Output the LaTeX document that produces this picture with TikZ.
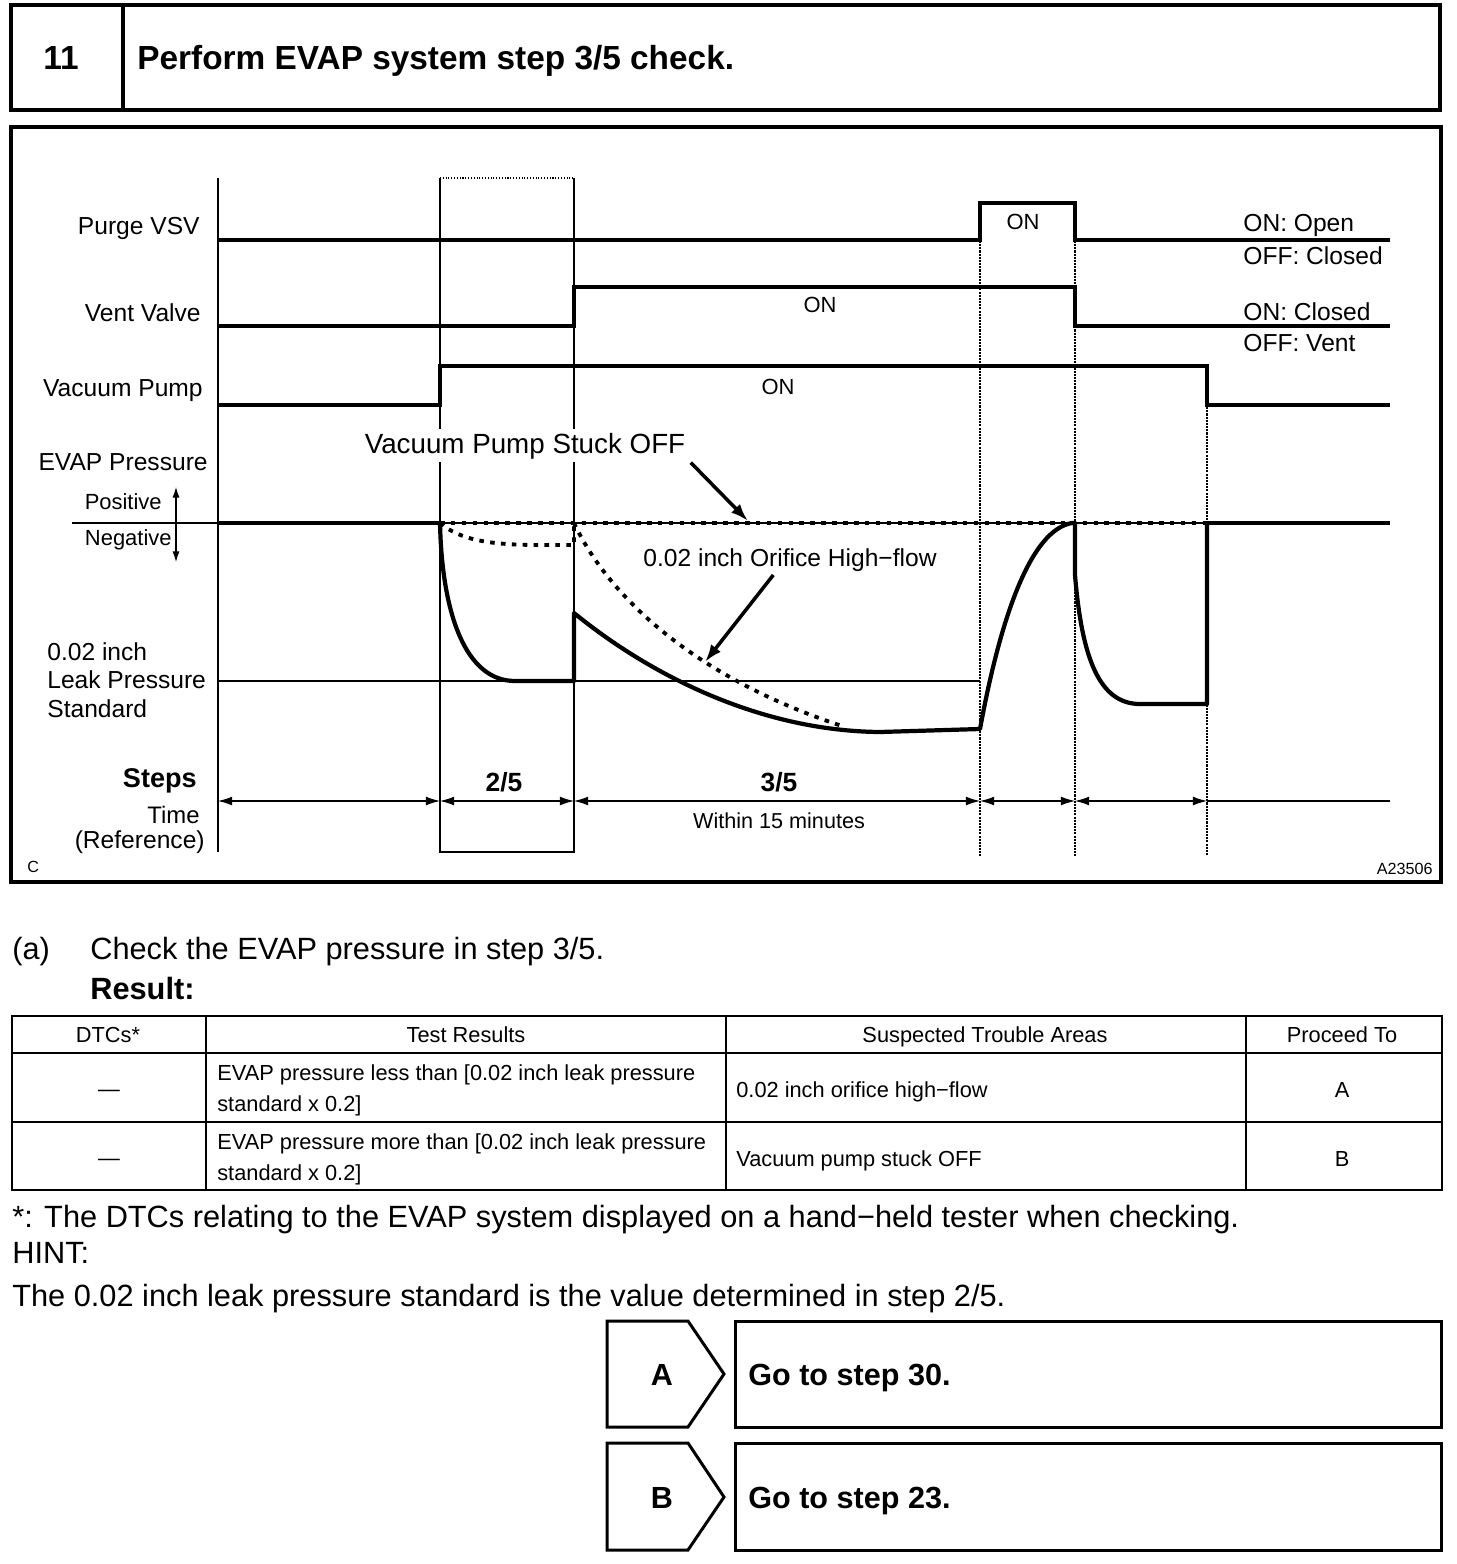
\documentclass[tikz,border=0pt]{standalone}
\usepackage{fontspec}
\setmainfont{Liberation Sans}
\usetikzlibrary{arrows.meta}
\newcommand{\fsz}[1]{\fontsize{#1}{#1}\selectfont}

\begin{document}
\begin{tikzpicture}[x=0.02cm,y=-0.02cm,
  every node/.style={inner sep=0pt},
  boxline/.style={line width=2.2pt},
  signal/.style={line width=2.4pt},
  guide/.style={line width=0.6pt},
  vguide/.style={line width=0.6pt,dash pattern=on 1.2pt off 0.6pt},
  leakdots/.style={line width=2.2pt,dash pattern=on 2.6pt off 3.6pt},
  timearrow/.style={guide,{Latex[length=8pt,width=5pt]}-{Latex[length=8pt,width=5pt]}},
  callout/.style={line width=2pt,-{Latex[length=10pt,width=7pt]}},
  lbl/.style={font=\fsz{14}},
  tbl/.style={font=\fsz{12.4}},
  body/.style={font=\fsz{17.5}}]
\useasboundingbox (0,0) rectangle (1456,1564);

% heading
\draw[boxline] (11,5) rectangle (1440,110);
\draw[boxline] (123,5) -- (123,110);
\node[anchor=base,font=\bfseries\fsz{19}] (num) at (61,70) {11};
\node[anchor=base west,font=\bfseries\fsz{19}] (title) at (137,70) {Perform EVAP system step 3/5 check.};

% chart frame and guides
\draw[boxline] (11,127) rectangle (1441,882);
\draw[line width=1pt] (218,178) -- (218,852);
\draw[guide] (440,178) -- (440,852) -- (574,852) -- (574,178);
\draw[guide,densely dotted] (440,178) -- (574,178);
\foreach \x/\y in {980/203,1075/203,1207/366} \draw[vguide] (\x,\y) -- (\x,856);

% signals
\draw[signal] (218,240) -- (980,240) -- (980,203) -- (1075,203) -- (1075,240) -- (1390,240);
\draw[signal] (218,326) -- (574,326) -- (574,287) -- (1075,287) -- (1075,326) -- (1390,326);
\draw[signal] (218,405) -- (440,405) -- (440,366) -- (1207,366) -- (1207,405) -- (1390,405);
\node[anchor=base east,lbl] (purge) at (200,235) {Purge VSV};
\node[anchor=base east,lbl] (vent) at (201,321) {Vent Valve};
\node[anchor=base east,lbl] (pump) at (203,396) {Vacuum Pump};
\node[anchor=base,font=\fsz{12.5}] (purgeon) at (1023,230) {ON};
\node[anchor=base,font=\fsz{12.5}] (venton) at (820,313) {ON};
\node[anchor=base,font=\fsz{12.5}] (pumpon) at (778,394) {ON};
\node[anchor=base west,lbl] (pon) at (1243,232) {ON: Open};
\node[anchor=base west,lbl] (poff) at (1243,265) {OFF: Closed};
\node[anchor=base west,lbl] (von) at (1243,320) {ON: Closed};
\node[anchor=base west,lbl] (voff) at (1243,351) {OFF: Vent};

% pressure
\draw[guide] (72,523) -- (1390,523);
\draw[guide] (218,681) -- (980,681);
\draw[signal] (218,523) -- (440,523);
\draw[leakdots] (440,523) -- (1207,523);
\draw[signal] (1207,523) -- (1390,523);
\draw[signal,line join=round] (440,523) .. controls (442,615) and (466,681) .. (515,681) -- (574,681) -- (574,613)
  .. controls (650,675) and (760,731) .. (880,732) -- (980,729)
  .. controls (1000,620) and (1030,530) .. (1072,523) -- (1075,523) -- (1075,575)
  .. controls (1082,660) and (1100,704) .. (1140,704) -- (1207,704) -- (1207,523);
\draw[leakdots] (440,523) .. controls (460,540) and (490,545) .. (540,545) -- (574,545) -- (574,523);
\draw[leakdots] (574,523) .. controls (610,600) and (700,680) .. (845,727);

\node[anchor=base east,lbl] (evap) at (208,470) {EVAP Pressure};
\node[anchor=base east,font=\fsz{12.5}] (pos) at (162,509) {Positive};
\node[anchor=base east,font=\fsz{12.5}] (neg) at (172,545) {Negative};
\coordinate (pup) at (176,487);
\coordinate (pdn) at (176,562);
\draw[guide,{Latex[length=6pt,width=4pt]}-{Latex[length=6pt,width=4pt]}] (pup) -- (pdn);
\node[anchor=base west,lbl] (leak1) at (47,660) {0.02 inch};
\node[anchor=base west,lbl] (leak2) at (47,688) {Leak Pressure};
\node[anchor=base west,lbl] (leak3) at (47,717) {Standard};

% callouts
\node[anchor=base,font=\fsz{15.8},fill=white,inner sep=2pt] (stuck) at (525,453) {Vacuum Pump Stuck OFF};
\coordinate (stucktip) at (748,521);
\draw[callout] ([xshift=1pt]stuck.south east) -- (stucktip);
\node[anchor=base,lbl] (orifice) at (790,566) {0.02 inch Orifice High−flow};
\coordinate (orificetip) at (705,662);
\draw[callout] ([xshift=-9.5pt,yshift=-2pt]orifice.south) -- (orificetip);

% steps / time
\foreach \n/\x in {t0/218,t1/440,t2/574,t3/980,t4/1075,t5/1207,t6/1390} \coordinate (\n) at (\x,801);
\draw[timearrow] (t0) -- (t1);
\draw[timearrow] (t1) -- (t2);
\draw[timearrow] (t2) -- (t3);
\draw[timearrow] (t3) -- (t4);
\draw[timearrow] (t4) -- (t5);
\draw[guide] (t5) -- (t6);
\node[anchor=base east,font=\bfseries\fsz{15.4}] (steps) at (197,787) {Steps};
\node[anchor=base east,font=\fsz{13.6}] (time) at (200,823) {Time};
\node[anchor=base east,font=\fsz{14}] (ref) at (205,848) {(Reference)};
\node[anchor=base,font=\bfseries\fsz{15}] (s2) at (504,791) {2/5};
\node[anchor=base,font=\bfseries\fsz{15}] (s3) at (779,791) {3/5};
\node[anchor=base,font=\fsz{12.3}] (within) at (779,828) {Within 15 minutes};
\node[anchor=base west,font=\fsz{9.2}] (cc) at (27,872) {C};
\node[anchor=base east,font=\fsz{9.2}] (code) at (1433,874) {A23506};

% text
\node[anchor=base west,body] (ia) at (12,959) {(a)};
\node[anchor=base west,body] (check) at (90,959) {Check the EVAP pressure in step 3/5.};
\node[anchor=base west,font=\bfseries\fsz{17.5}] (result) at (90,999) {Result:};

% table
\draw[line width=1.6pt] (12,1016) rectangle (1442,1190);
\foreach \x in {206,726,1246} \draw[line width=1.6pt] (\x,1016) -- (\x,1190);
\foreach \y in {1053,1122} \draw[line width=1.6pt] (12,\y) -- (1442,\y);
\node[anchor=base,tbl] (h1) at (108,1042) {DTCs*};
\node[anchor=base,tbl] (h2) at (466,1042) {Test Results};
\node[anchor=base,tbl] (h3) at (985,1042) {Suspected Trouble Areas};
\node[anchor=base,tbl] (h4) at (1342,1042) {Proceed To};
\node[anchor=base,tbl] (d1) at (109,1096) {—};
\node[anchor=base west,tbl] (r1a) at (217,1080) {EVAP pressure less than [0.02 inch leak pressure};
\node[anchor=base west,tbl] (r1b) at (217,1111) {standard x 0.2]};
\node[anchor=base west,tbl] (a1) at (736,1097) {0.02 inch orifice high−flow};
\node[anchor=base,tbl] (p1) at (1342,1097) {A};
\node[anchor=base,tbl] (d2) at (109,1165) {—};
\node[anchor=base west,tbl] (r2a) at (217,1149) {EVAP pressure more than [0.02 inch leak pressure};
\node[anchor=base west,tbl] (r2b) at (217,1180) {standard x 0.2]};
\node[anchor=base west,tbl] (a2) at (736,1166) {Vacuum pump stuck OFF};
\node[anchor=base,tbl] (p2) at (1342,1166) {B};

\node[anchor=base west,body] (note) at (12,1227) {*: The DTCs relating to the EVAP system displayed on a hand−held tester when checking.};
\node[anchor=base west,body] (hint) at (12,1263) {HINT:};
\node[anchor=base west,body] (hinttext) at (12,1306) {The 0.02 inch leak pressure standard is the value determined in step 2/5.};

% results
\draw[line width=1.7pt] (607,1321) -- (688,1321) -- (724,1374) -- (688,1427) -- (607,1427) -- cycle;
\draw[line width=1.7pt] (735,1321) rectangle (1441,1427);
\node[anchor=base,font=\bfseries\fsz{17.4}] (ka) at (662,1385) {A};
\node[anchor=base west,font=\bfseries\fsz{17.4}] (ga) at (748,1385) {Go to step 30.};
\draw[line width=1.7pt] (607,1443) -- (688,1443) -- (724,1497) -- (688,1550) -- (607,1550) -- cycle;
\draw[line width=1.7pt] (735,1443) rectangle (1441,1550);
\node[anchor=base,font=\bfseries\fsz{17.4}] (kb) at (662,1508) {B};
\node[anchor=base west,font=\bfseries\fsz{17.4}] (gb) at (748,1508) {Go to step 23.};
\end{tikzpicture}
\end{document}
